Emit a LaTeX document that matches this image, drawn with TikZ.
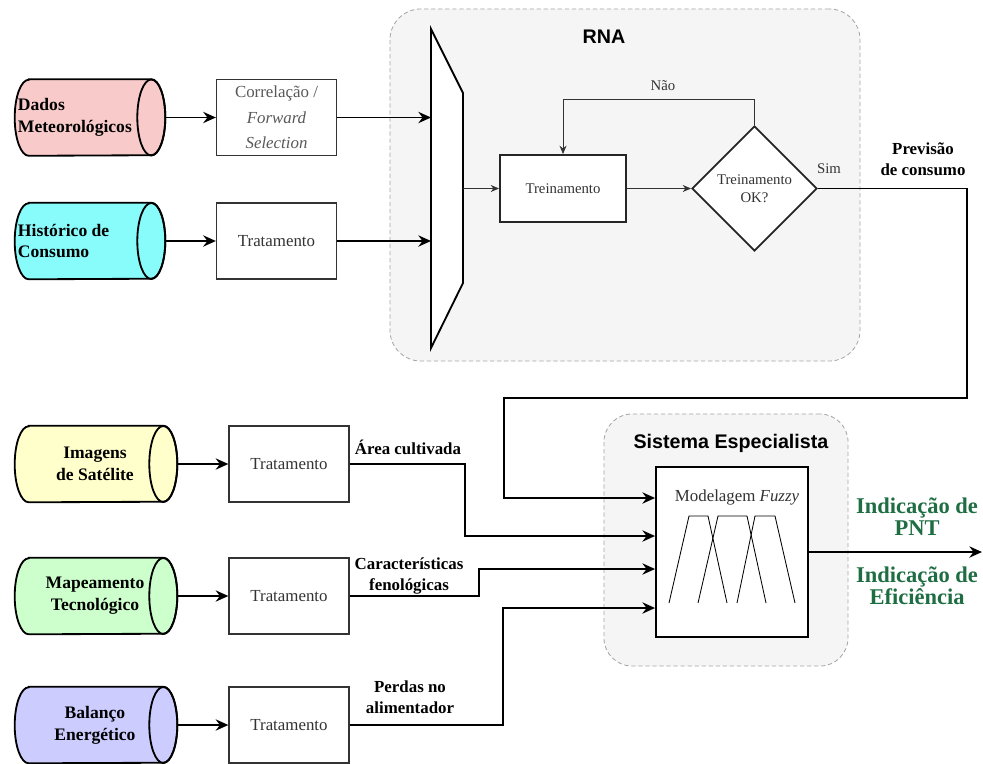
\documentclass[tikz,border=0pt]{standalone}
\usepackage{fontspec}
\setmainfont{Liberation Serif}
\setsansfont{Liberation Sans}
\usetikzlibrary{arrows.meta,shapes.geometric,calc}

\definecolor{pinkfill}{HTML}{F8CBCA}
\definecolor{cyanfill}{HTML}{88FBFB}
\definecolor{yelfill}{HTML}{FFFFCC}
\definecolor{grnfill}{HTML}{CCFFCC}
\definecolor{blufill}{HTML}{CCCCFF}
\definecolor{groupfill}{HTML}{F5F5F5}
\definecolor{outgreen}{HTML}{1F6E43}
\definecolor{txtgray}{HTML}{333333}

% cilindro de dados: nome, centro, largura, cor
\newcommand{\datacyl}[4]{%
  \node[minimum width=#3,minimum height=1.9cm,inner sep=0pt] (#1) at #2 {};
  \draw[line width=1.3pt,fill=#4] ($(#1.north west)+(0.35cm,0)$) -- ($(#1.north east)+(-0.35cm,0)$)
    arc[start angle=90,end angle=-90,x radius=0.35cm,y radius=0.95cm]
    -- ($(#1.south west)+(0.35cm,0)$)
    arc[start angle=270,end angle=90,x radius=0.35cm,y radius=0.95cm] -- cycle;
  \draw[line width=1.3pt] ($(#1.east)+(-0.35cm,0)$) ellipse[x radius=0.35cm,y radius=0.95cm];}

\begin{document}
\begin{tikzpicture}[x=0.025cm,y=-0.025cm,
  >={Stealth[length=9pt,width=8pt,inset=3pt]},
  conn/.style={->,line width=1.4pt},
  thinconn/.style={-{Stealth[length=6pt,width=5pt,inset=2pt]},line width=0.7pt,txtgray},
  src/.style={font=\bfseries\fontsize{12.5}{15.5}\selectfont,align=center},
  tbox/.style={draw=txtgray,line width=0.9pt,fill=white,text=txtgray,minimum width=3cm,minimum height=1.9cm,
    font=\fontsize{12}{17}\selectfont,align=center},
  group/.style={draw=gray!70,dash pattern=on 3pt off 2pt,line width=0.6pt,fill=groupfill,rounded corners=22pt},
  title/.style={font=\sffamily\bfseries\fontsize{14}{16}\selectfont},
  small/.style={font=\fontsize{10.5}{12.5}\selectfont,text=txtgray,align=center},
  lbl/.style={font=\bfseries\fontsize{12}{15}\selectfont,align=center},
  outlbl/.style={font=\bfseries\fontsize{16}{15.5}\selectfont,text=outgreen,align=center}]
\useasboundingbox (0,0) rectangle (983,763);

% grupos
\node[group,minimum width=11.75cm,minimum height=8.8cm] (rna) at (625,185) {};
\node[title] (rnat) at (604,37) {RNA};
\node[group,minimum width=6.1cm,minimum height=6.3cm,rounded corners=20pt] (se) at (726,540) {};
\node[title] (set) at (731,443) {Sistema Especialista};

% entradas da RNA
\datacyl{dados}{(90,117.5)}{3.75cm}{pinkfill}
\node[src,align=left,anchor=west] (dadost) at (13,117.5) {Dados\\Meteorológicos};
\datacyl{hist}{(90,241)}{3.75cm}{cyanfill}
\node[src,align=left,anchor=west] (histt) at (13,241) {Histórico de\\Consumo};
\node[tbox,text=black!65,font=\fontsize{12}{18}\selectfont] (corr) at (276.5,117.5) {Correlação /\\\textit{Forward}\\\textit{Selection}};
\node[tbox] (trat) at (276.5,241) {Tratamento};
\draw[conn] (dados.east) -- (corr.west);
\draw[conn] (hist.east) -- (trat.west);

% multiplexador
\draw[line width=1.3pt,fill=white] (431,29) coordinate (mA) -- (463,93) coordinate (mB)
  -- (463,283) -- (431,348) -- cycle;
\draw[conn] (corr.east) -- (corr.east -| mA);
\draw[conn] (trat.east) -- (trat.east -| mA);

% treinamento
\node[draw=black!85,line width=1.3pt,fill=white,minimum width=3.15cm,minimum height=1.675cm,small] (treino) at (563,188.5) {Treinamento};
\node[diamond,draw=black!85,line width=1.3pt,fill=white,minimum width=3.125cm,minimum height=3.125cm,inner sep=0pt,small] (ok) at (754.5,188.5) {Treinamento\\OK?};
\draw[thinconn] (treino.west -| mB) -- (treino.west);
\draw[thinconn] (treino.east) -- (ok.west);
\draw[thinconn,-] (ok.north) -- ++(0,-26) coordinate (nao);
\draw[thinconn] (nao) -| (treino.north);
\node[small] (naot) at (663,86) {Não};
\node[small] (simt) at (829,169) {Sim};
\node[lbl] (prev) at (923,159) {Previsão\\de consumo};

% sistema especialista
\node[draw=black,line width=1.3pt,fill=white,minimum width=3.8cm,minimum height=4.25cm] (fuzzy) at (732,552) {};
\node[font=\fontsize{12}{14}\selectfont,text=txtgray] (fuzzyt) at (737,497) {Modelagem \textit{Fuzzy}};
\foreach \a/\b/\c/\d in {669/689/708/727,698/718/747/766,737/755/775/795}
  \draw[line width=0.6pt] (\a,603) -- (\b,516) -- (\c,516) -- (\d,603);
\draw[conn] (ok.east) -- (ok.east -| 967,0) -- (967,398) -- (504,398) |- (fuzzy.west |- 0,498);

% entradas do sistema especialista
\foreach \n/\c/\t/\y/\x/\e in {img/yelfill/{Imagens\\de Satélite}/464/465/536,
    map/grnfill/{Mapeamento\\Tecnológico}/596/479/569,
    bal/blufill/{Balanço\\Energético}/725/503/608}
{ \datacyl{\n}{(96,\y)}{4.05cm}{\c}
  \node[src] (\n t) at (95,\y) {\t};
  \node[tbox] (t\n) at (289,\y) {Tratamento};
  \draw[conn] (\n.east) -- (t\n.west);
  \draw[conn] (t\n.east) -- (\x,\y) |- (fuzzy.west |- 0,\e); }
\node[lbl] (areat) at (408,447) {Área cultivada};
\node[lbl] (fenot) at (409,576) {Características\\fenológicas};
\node[lbl] (perdt) at (410,697) {Perdas no\\alimentador};

% saida
\coordinate (out) at (982,552);
\draw[conn] (fuzzy.east) -- (out);
\node[outlbl] (pnt) at (917,517) {Indicação de\\PNT};
\node[outlbl] (efic) at (917,586) {Indicação de\\Eficiência};
\end{tikzpicture}
\end{document}
